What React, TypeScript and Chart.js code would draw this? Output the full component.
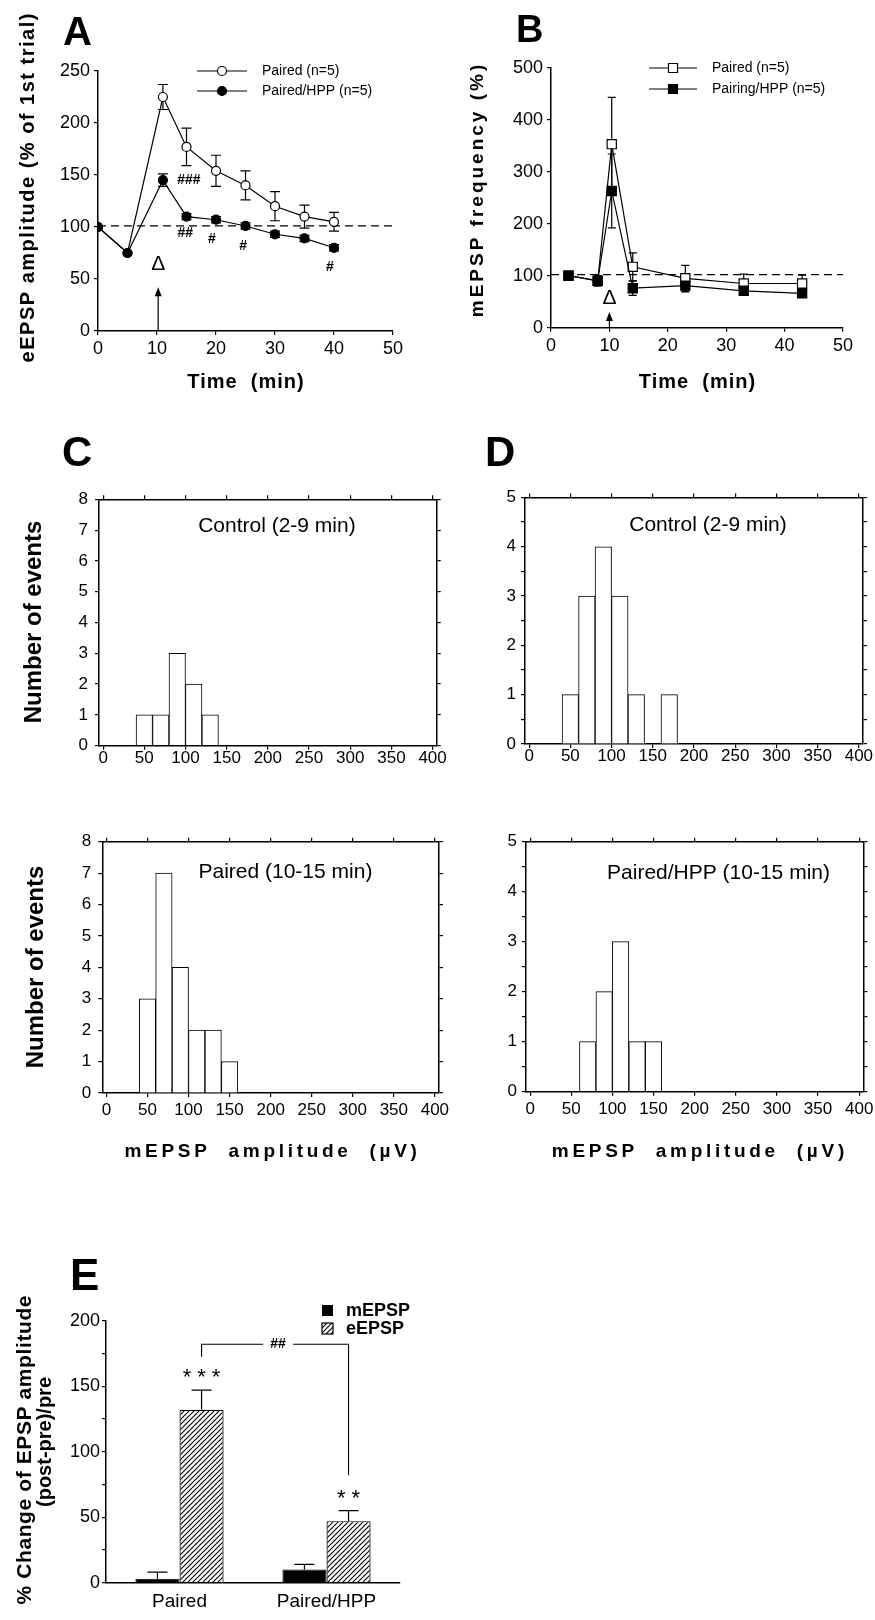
import React, { useEffect, useRef } from 'react';
import { Chart, registerables } from 'chart.js';

Chart.register(...registerables);

const FONT = "'Liberation Sans', Arial, Helvetica, sans-serif";
Chart.defaults.font.family = FONT;
Chart.defaults.color = '#000';

// ===== Panel A: eEPSP amplitude (% of 1st trial) vs time =====
const timeA = [0, 5, 11, 15, 20, 25, 30, 35, 40];
const pairedA = [100, 75, 225, 177, 154, 140, 120, 110, 105];
const pairedErrA = [0, 0, 12, 18, 15, 14, 14, 11, 9];
const hppA = [100, 75, 145, 110, 107, 101, 93, 89, 80];
const hppErrA = [0, 0, 6, 3, 3, 3, 3, 3, 3];
const ticksXA = [0, 10, 20, 30, 40, 50];
const ticksYA = [0, 50, 100, 150, 200, 250];
const baselineA = 101;
const sigTextA = ['###', '##', '#', '#', '#'];
const sigXA = [15.4, 14.8, 19.3, 24.6, 39.3];
const sigYA = [145, 94, 88.5, 81.7, 61.5];

// ===== Panel B: mEPSP frequency (%) vs time =====
const timeB = [3, 8, 10.4, 14, 23, 33, 43];
const pairedB = [100, 90, 353, 117, 95, 85, 85];
const pairedErrB = [0, 10, 90, 27, 25, 18, 16];
const hppB = [100, 90, 263, 76, 81, 71, 66];
const hppErrB = [0, 8, 71, 14, 12, 5, 5];
const ticksXB = [0, 10, 20, 30, 40, 50];
const ticksYB = [0, 100, 200, 300, 400, 500];
const baselineB = 102;

// ===== Panels C, D: amplitude histograms =====
const binWidth = 20;
const ampTicks = [0, 50, 100, 150, 200, 250, 300, 350, 400];
const ctrlCBins = [40, 60, 80, 100, 120];
const ctrlCCounts = [1, 1, 3, 2, 1];
const pairedCBins = [40, 60, 80, 100, 120, 140];
const pairedCCounts = [3, 7, 4, 2, 2, 1];
const ctrlDBins = [40, 60, 80, 100, 120, 160];
const ctrlDCounts = [1, 3, 4, 3, 1, 1];
const hppDBins = [60, 80, 100, 120, 140];
const hppDCounts = [1, 2, 3, 1, 1];
const countTicksC = [0, 1, 2, 3, 4, 5, 6, 7, 8];
const countTicksD = [0, 0.5, 1, 1.5, 2, 2.5, 3, 3.5, 4, 4.5, 5];

// ===== Panel E: % change of EPSP amplitude =====
const groupsE = ['Paired', 'Paired/HPP'];
const mEPSPChange = [3, 10];
const mEPSPErr = [5, 4];
const eEPSPChange = [132, 47];
const eEPSPErr = [15, 8];
const ticksYE = [0, 25, 50, 75, 100, 125, 150, 175, 200];

// ---------------------------------------------------------------
const BLACK = '#000';

type TextOpt = { bold?: boolean; align?: CanvasTextAlign; baseline?: CanvasTextBaseline; rot?: number; sp?: number };

function drawText(ctx: CanvasRenderingContext2D, s: string, x: number, y: number, size: number, o: TextOpt = {}) {
  ctx.save();
  ctx.font = `${o.bold ? 'bold ' : ''}${size}px ${FONT}`;
  ctx.fillStyle = BLACK;
  const align = o.align ?? 'center';
  ctx.textAlign = align;
  ctx.textBaseline = o.baseline ?? 'middle';
  if (o.sp) (ctx as any).letterSpacing = `${o.sp}px`;
  ctx.translate(x, y);
  if (o.rot) ctx.rotate(o.rot);
  ctx.fillText(s, o.sp && align === 'center' ? o.sp / 2 : 0, 0);
  ctx.restore();
}

function seg(ctx: CanvasRenderingContext2D, pts: number[][], w = 1.2) {
  ctx.save();
  ctx.strokeStyle = BLACK;
  ctx.lineWidth = w;
  ctx.beginPath();
  pts.forEach((p, i) => (i === 0 ? ctx.moveTo(p[0], p[1]) : ctx.lineTo(p[0], p[1])));
  ctx.stroke();
  ctx.restore();
}

function arrowUp(ctx: CanvasRenderingContext2D, x: number, yBase: number, yTip: number) {
  seg(ctx, [[x, yBase], [x, yTip + 6]], 1.2);
  ctx.save();
  ctx.fillStyle = BLACK;
  ctx.beginPath();
  ctx.moveTo(x, yTip);
  ctx.lineTo(x - 3.5, yTip + 9);
  ctx.lineTo(x + 3.5, yTip + 9);
  ctx.closePath();
  ctx.fill();
  ctx.restore();
}

function errorBars(chart: any, ds: number, vals: number[], errs: number[], cap: number, both: boolean) {
  const ctx: CanvasRenderingContext2D = chart.ctx;
  const ys = chart.scales.y;
  const meta = chart.getDatasetMeta(ds);
  ctx.save();
  ctx.strokeStyle = BLACK;
  ctx.lineWidth = 1.2;
  meta.data.forEach((el: any, i: number) => {
    const e = errs[i];
    if (!e) return;
    const x = el.x;
    const top = ys.getPixelForValue(vals[i] + e);
    const bot = both ? ys.getPixelForValue(vals[i] - e) : ys.getPixelForValue(vals[i]);
    ctx.beginPath();
    ctx.moveTo(x, top);
    ctx.lineTo(x, bot);
    ctx.moveTo(x - cap, top);
    ctx.lineTo(x + cap, top);
    if (both) {
      ctx.moveTo(x - cap, bot);
      ctx.lineTo(x + cap, bot);
    }
    ctx.stroke();
  });
  ctx.restore();
}

function legendRow(ctx: CanvasRenderingContext2D, x1: number, x2: number, y: number, shape: 'circle' | 'rect', filled: boolean, label: string, tx: number) {
  seg(ctx, [[x1, y], [x2, y]], 1.2);
  const cx = (x1 + x2) / 2;
  ctx.save();
  ctx.fillStyle = filled ? BLACK : '#fff';
  ctx.strokeStyle = BLACK;
  ctx.lineWidth = 1.2;
  ctx.beginPath();
  if (shape === 'circle') ctx.arc(cx, y, 4.5, 0, Math.PI * 2);
  else ctx.rect(cx - 4.5, y - 4.5, 9, 9);
  ctx.fill();
  ctx.stroke();
  ctx.restore();
  drawText(ctx, label, tx, y, 14, { align: 'left' });
}

function hatchPattern(): CanvasPattern {
  const c = document.createElement('canvas');
  c.width = 5;
  c.height = 5;
  const g = c.getContext('2d')!;
  g.fillStyle = '#fff';
  g.fillRect(0, 0, 5, 5);
  g.strokeStyle = BLACK;
  g.lineWidth = 1.1;
  g.beginPath();
  g.moveTo(-1, 6);
  g.lineTo(6, -1);
  g.moveTo(-1, 1);
  g.lineTo(1, -1);
  g.moveTo(4, 6);
  g.lineTo(6, 4);
  g.stroke();
  return g.createPattern(c, 'repeat')!;
}

type AxisOpt = {
  pos: 'left' | 'right' | 'top' | 'bottom';
  type?: string;
  min?: number;
  max?: number;
  ticks?: number[];
  label?: (v: number) => string;
  size: number;
  tl: number;
  pad: number;
  font?: number;
  lh?: number;
  labels?: boolean;
  offset?: boolean;
};

function axis(o: AxisOpt): any {
  const horiz = o.pos === 'top' || o.pos === 'bottom';
  const a: any = {
    type: o.type ?? 'linear',
    position: o.pos,
    offset: o.offset ?? false,
    bounds: 'data',
    afterFit: (s: any) => {
      if (horiz) s.height = o.size;
      else s.width = o.size;
      s.paddingLeft = 0;
      s.paddingRight = 0;
      s.paddingTop = 0;
      s.paddingBottom = 0;
    },
    ticks: {
      display: o.labels !== false,
      autoSkip: false,
      maxRotation: 0,
      minRotation: 0,
      padding: o.pad,
      font: { size: o.font ?? 18, lineHeight: o.lh ?? 1.2 },
      color: BLACK,
    },
    grid: {
      display: o.tl > 0,
      drawOnChartArea: false,
      drawTicks: true,
      tickLength: o.tl,
      color: BLACK,
      lineWidth: 1.2,
      offset: false,
    },
    border: { display: true, color: BLACK, width: 1.5 },
  };
  if (o.min !== undefined) a.min = o.min;
  if (o.max !== undefined) a.max = o.max;
  if (o.ticks) {
    const tv = o.ticks;
    a.afterBuildTicks = (s: any) => {
      s.ticks = tv.map((v) => ({ value: v }));
    };
  }
  if (o.label) {
    const f = o.label;
    a.ticks.callback = (v: any) => f(Number(v));
  }
  return a;
}

const common = {
  responsive: false,
  maintainAspectRatio: false,
  animation: false,
  devicePixelRatio: 1,
  events: [],
  plugins: { legend: { display: false }, tooltip: { enabled: false } },
};

function lineDs(label: string, xs: number[], ys: number[], filled: boolean, style: string, r: number, order: number) {
  return {
    label,
    data: xs.map((x, i) => ({ x, y: ys[i] })),
    borderColor: BLACK,
    borderWidth: 1.2,
    pointStyle: style,
    pointRadius: r,
    pointBackgroundColor: filled ? BLACK : '#fff',
    pointBorderColor: BLACK,
    pointBorderWidth: 1.2,
    fill: false,
    order,
  };
}

function dashDs(y: number) {
  return {
    label: 'baseline',
    data: [{ x: 0, y }, { x: 50, y }],
    borderColor: BLACK,
    borderWidth: 1.2,
    borderDash: [8, 5],
    pointRadius: 0,
    fill: false,
    order: 5,
  };
}

// ---------------- Panel A ----------------
function buildA() {
  return {
    type: 'line',
    data: {
      datasets: [
        lineDs('Paired (n=5)', timeA, pairedA, false, 'circle', 4.5, 2),
        lineDs('Paired/HPP (n=5)', timeA, hppA, true, 'circle', 4.5, 1),
        dashDs(baselineA),
      ],
    },
    options: {
      ...common,
      layout: { padding: { left: 0, top: 71, right: 42, bottom: 0 } },
      scales: {
        x: axis({ pos: 'bottom', min: 0, max: 50, ticks: ticksXA, size: 79, tl: 4, pad: 3, font: 18 }),
        y: axis({ pos: 'left', min: 0, max: 250, ticks: ticksYA, size: 98, tl: 4, pad: 4, font: 18 }),
      },
    },
    plugins: [
      {
        id: 'decorA',
        beforeDatasetsDraw(c: any) {
          errorBars(c, 0, pairedA, pairedErrA, 5, true);
          errorBars(c, 1, hppA, hppErrA, 5, true);
        },
        afterDraw(c: any) {
          const ctx = c.ctx as CanvasRenderingContext2D;
          const X = (v: number) => c.scales.x.getPixelForValue(v);
          const Y = (v: number) => c.scales.y.getPixelForValue(v);
          drawText(ctx, 'A', 63, 45, 40, { bold: true, align: 'left', baseline: 'alphabetic' });
          drawText(ctx, 'eEPSP amplitude (% of 1st trial)', 28.5, 188, 20, { bold: true, rot: -Math.PI / 2, sp: 1.5 });
          drawText(ctx, 'Time  (min)', 245.5, 382, 20, { bold: true, sp: 1 });
          legendRow(ctx, 197, 247, 71, 'circle', false, 'Paired (n=5)', 262);
          legendRow(ctx, 197, 247, 91, 'circle', true, 'Paired/HPP (n=5)', 262);
          sigTextA.forEach((t, i) => drawText(ctx, t, X(sigXA[i]), Y(sigYA[i]), 14, { bold: true }));
          drawText(ctx, '\u0394', X(10.2), Y(64), 21);
          arrowUp(ctx, X(10.2), Y(0), Y(42));
        },
      },
    ],
  };
}

// ---------------- Panel B ----------------
function buildB() {
  return {
    type: 'line',
    data: {
      datasets: [
        lineDs('Paired (n=5)', timeB, pairedB, false, 'rect', 6.5, 2),
        lineDs('Pairing/HPP (n=5)', timeB, hppB, true, 'rect', 6.5, 1),
        dashDs(baselineB),
      ],
    },
    options: {
      ...common,
      layout: { padding: { left: 0, top: 67.7, right: 32, bottom: 0 } },
      scales: {
        x: axis({ pos: 'bottom', min: 0, max: 50, ticks: ticksXB, size: 82.3, tl: 4, pad: 4, font: 18 }),
        y: axis({ pos: 'left', min: 0, max: 500, ticks: ticksYB, size: 116, tl: 4, pad: 4, font: 18 }),
      },
    },
    plugins: [
      {
        id: 'decorB',
        beforeDatasetsDraw(c: any) {
          errorBars(c, 0, pairedB, pairedErrB, 4, true);
          errorBars(c, 1, hppB, hppErrB, 4, true);
        },
        afterDraw(c: any) {
          const ctx = c.ctx as CanvasRenderingContext2D;
          const X = (v: number) => c.scales.x.getPixelForValue(v);
          const Y = (v: number) => c.scales.y.getPixelForValue(v);
          drawText(ctx, 'B', 81, 42, 38, { bold: true, align: 'left', baseline: 'alphabetic' });
          drawText(ctx, 'mEPSP frequency (%)', 43, 191, 19, { bold: true, rot: -Math.PI / 2, sp: 3 });
          drawText(ctx, 'Time  (min)', 262, 382, 20, { bold: true, sp: 1 });
          legendRow(ctx, 214, 262, 68, 'rect', false, 'Paired (n=5)', 277);
          legendRow(ctx, 214, 262, 89, 'rect', true, 'Pairing/HPP (n=5)', 277);
          drawText(ctx, '\u0394', X(10), Y(57), 21);
          arrowUp(ctx, X(10), Y(0), Y(30));
        },
      },
    ],
  };
}

// ---------------- Histograms ----------------
type HistSpec = {
  bins: number[];
  counts: number[];
  yTicks: number[];
  yMax: number;
  pad: { left: number; top: number; right: number; bottom: number };
  yW: number;
  xH: number;
  yPad: number;
  xPad: number;
  decor: (c: any, ctx: CanvasRenderingContext2D, X: (v: number) => number, Y: (v: number) => number) => void;
};

function buildHist(s: HistSpec) {
  return {
    type: 'bar',
    data: {
      datasets: [
        {
          label: 'events',
          data: s.bins.map((b, i) => ({ x: b + binWidth / 2, y: s.counts[i] })),
          backgroundColor: '#fff',
          borderColor: BLACK,
          borderWidth: 1,
          barPercentage: 1,
          categoryPercentage: 1,
        },
      ],
    },
    options: {
      ...common,
      layout: { padding: s.pad },
      scales: {
        x: axis({ pos: 'bottom', min: -5, max: 405, ticks: ampTicks, size: s.xH, tl: 4, pad: s.xPad, font: 17, lh: 1 }),
        y: axis({
          pos: 'left', min: 0, max: s.yMax, ticks: s.yTicks, size: s.yW, tl: 4, pad: s.yPad, font: 17,
          label: (v) => (Number.isInteger(v) ? String(v) : ''),
        }),
        x2: axis({ pos: 'top', min: -5, max: 405, ticks: ampTicks, size: 0, tl: 4, pad: 0, labels: false }),
        y2: axis({ pos: 'right', min: 0, max: s.yMax, ticks: s.yTicks, size: 0, tl: 4, pad: 0, labels: false }),
      },
    },
    plugins: [
      {
        id: 'decorHist',
        afterDraw(c: any) {
          const ctx = c.ctx as CanvasRenderingContext2D;
          const X = (v: number) => c.scales.x.getPixelForValue(v);
          const Y = (v: number) => c.scales.y.getPixelForValue(v);
          s.decor(c, ctx, X, Y);
        },
      },
    ],
  };
}

const AMP_TITLE = 'mEPSP  amplitude  (\u00b5V)';

// C top canvas starts at page y 400
function buildCTop() {
  return buildHist({
    bins: ctrlCBins, counts: ctrlCCounts, yTicks: countTicksC, yMax: 8,
    pad: { left: 0, top: 99.3, right: 23.3, bottom: 0 }, yW: 99, xH: 34.3, yPad: 7, xPad: 0,
    decor: (c, ctx, X, Y) => {
      drawText(ctx, 'C', 62, 66, 42, { bold: true, align: 'left', baseline: 'alphabetic' });
      drawText(ctx, 'Number of events', 34, 222, 24, { bold: true, rot: -Math.PI / 2 });
      drawText(ctx, 'Control (2-9 min)', X(211), Y(7.13), 21);
    },
  });
}

// C bottom canvas starts at page y 790
function buildCBottom() {
  return buildHist({
    bins: pairedCBins, counts: pairedCCounts, yTicks: countTicksC, yMax: 8,
    pad: { left: 0, top: 51.7, right: 21, bottom: 0 }, yW: 102.3, xH: 77, yPad: 7, xPad: 5,
    decor: (c, ctx, X, Y) => {
      drawText(ctx, 'Number of events', 36.4, 177, 24, { bold: true, rot: -Math.PI / 2 });
      drawText(ctx, AMP_TITLE, 270.7, 361.5, 19, { bold: true, sp: 3.7 });
      drawText(ctx, 'Paired (10-15 min)', X(218), Y(7.02), 21);
    },
  });
}

// D top canvas starts at page y 400, x 440
function buildDTop() {
  return buildHist({
    bins: ctrlDBins, counts: ctrlDCounts, yTicks: countTicksD, yMax: 5,
    pad: { left: 0, top: 97.4, right: 12, bottom: 0 }, yW: 85, xH: 36, yPad: 5, xPad: 0,
    decor: (c, ctx, X, Y) => {
      drawText(ctx, 'D', 45, 66, 42, { bold: true, align: 'left', baseline: 'alphabetic' });
      drawText(ctx, 'Control (2-9 min)', X(217), Y(4.44), 21);
    },
  });
}

// D bottom canvas starts at page y 790, x 440
function buildDBottom() {
  return buildHist({
    bins: hppDBins, counts: hppDCounts, yTicks: countTicksD, yMax: 5,
    pad: { left: 0, top: 51.7, right: 11.7, bottom: 0 }, yW: 86, xH: 78.3, yPad: 5, xPad: 5,
    decor: (c, ctx, X, Y) => {
      drawText(ctx, AMP_TITLE, 258, 361.5, 19, { bold: true, sp: 3.7 });
      drawText(ctx, 'Paired/HPP (10-15 min)', X(229), Y(4.37), 21);
    },
  });
}

// ---------------- Panel E ----------------
function buildE() {
  const hatch = hatchPattern();
  return {
    type: 'bar',
    data: {
      labels: groupsE,
      datasets: [
        { label: 'mEPSP', data: mEPSPChange, backgroundColor: BLACK, borderColor: BLACK, borderWidth: 1, barPercentage: 1, categoryPercentage: 0.6 },
        { label: 'eEPSP', data: eEPSPChange, backgroundColor: hatch, borderColor: BLACK, borderWidth: 1.2, barPercentage: 1, categoryPercentage: 0.6 },
      ],
    },
    options: {
      ...common,
      layout: { padding: { left: 0, top: 90.7, right: 60, bottom: 0 } },
      scales: {
        x: axis({ pos: 'bottom', type: 'category', size: 37.3, tl: 0, pad: 7.6, font: 19, offset: true }),
        y: axis({
          pos: 'left', min: 0, max: 200, ticks: ticksYE, size: 106, tl: 4, pad: 2, font: 18,
          label: (v) => (v % 50 === 0 ? String(v) : ''),
        }),
      },
    },
    plugins: [
      {
        id: 'decorE',
        afterDatasetsDraw(c: any) {
          errorBars(c, 0, mEPSPChange, mEPSPErr, 10, false);
          errorBars(c, 1, eEPSPChange, eEPSPErr, 10, false);
        },
        afterDraw(c: any) {
          const ctx = c.ctx as CanvasRenderingContext2D;
          const Y = (v: number) => c.scales.y.getPixelForValue(v);
          const m1 = c.getDatasetMeta(1);
          const xL = m1.data[0].x;
          const xR = m1.data[1].x;
          const xm = (xL + xR) / 2 + 3;
          drawText(ctx, 'E', 70, 60, 44, { bold: true, align: 'left', baseline: 'alphabetic' });
          drawText(ctx, '% Change of EPSP amplitude', 25.5, 220, 21, { bold: true, rot: -Math.PI / 2, sp: 0.6 });
          drawText(ctx, '(post-pre)/pre', 45.5, 212, 20, { bold: true, rot: -Math.PI / 2 });
          // legend
          ctx.save();
          ctx.fillStyle = BLACK;
          ctx.fillRect(322, 75, 11, 11);
          ctx.fillStyle = hatch;
          ctx.fillRect(322, 93, 11, 11);
          ctx.strokeStyle = BLACK;
          ctx.lineWidth = 1.2;
          ctx.strokeRect(322, 93, 11, 11);
          ctx.restore();
          drawText(ctx, 'mEPSP', 346, 81, 18, { bold: true, align: 'left' });
          drawText(ctx, 'eEPSP', 346, 99, 18, { bold: true, align: 'left' });
          // significance bracket
          const yTop = Y(182);
          seg(ctx, [[xL, Y(172.5)], [xL, yTop], [xm - 15, yTop]], 1.1);
          seg(ctx, [[xm + 15, yTop], [xR, yTop], [xR, Y(82)]], 1.1);
          drawText(ctx, '##', xm, yTop, 14, { bold: true });
          // stars (alphabetic baseline so asterisk centre sits on target)
          drawText(ctx, '***', xL, Y(161) + 12.5, 22, { sp: 6, baseline: 'alphabetic' });
          drawText(ctx, '**', xR, Y(68.5) + 12.5, 22, { sp: 6, baseline: 'alphabetic' });
        },
      },
    ],
  };
}

type Box = { left: number; top: number; w: number; h: number };

function ChartPanel({ box, build }: { box: Box; build: () => any }) {
  const ref = useRef<HTMLCanvasElement | null>(null);
  useEffect(() => {
    const chart = new Chart(ref.current as HTMLCanvasElement, build());
    return () => chart.destroy();
  }, [build]);
  return (
    <canvas
      ref={ref}
      width={box.w}
      height={box.h}
      style={{ position: 'absolute', left: box.left, top: box.top, width: box.w, height: box.h }}
    />
  );
}

const panels: { box: Box; build: () => any }[] = [
  { box: { left: 0, top: 0, w: 435, h: 410 }, build: buildA },
  { box: { left: 435, top: 0, w: 440, h: 410 }, build: buildB },
  { box: { left: 0, top: 400, w: 460, h: 380 }, build: buildCTop },
  { box: { left: 0, top: 790, w: 460, h: 380 }, build: buildCBottom },
  { box: { left: 440, top: 400, w: 435, h: 380 }, build: buildDTop },
  { box: { left: 440, top: 790, w: 435, h: 380 }, build: buildDBottom },
  { box: { left: 0, top: 1230, w: 460, h: 390 }, build: buildE },
];

export default function App() {
  return (
    <div style={{ position: 'absolute', left: 0, top: 0, width: 875, height: 1620, background: '#fff', overflow: 'hidden' }}>
      {panels.map((p, i) => (
        <ChartPanel key={i} box={p.box} build={p.build} />
      ))}
    </div>
  );
}
